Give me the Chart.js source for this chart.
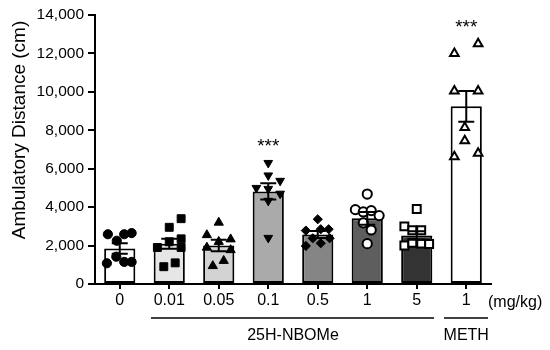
<!DOCTYPE html>
<html>
<head>
<meta charset="utf-8">
<script src="https://cdn.jsdelivr.net/npm/chart.js@4/dist/chart.umd.min.js"></script>
<style>
  html, body { margin: 0; padding: 0; background: #fff; }
  #wrap { width: 550px; height: 350px; }
</style>
</head>
<body>
<div id="wrap"><canvas id="c" width="550" height="350"></canvas></div>
<script>
// ---- data ----
const categories = ['0', '0.01', '0.05', '0.1', '0.5', '1', '5', '1'];
const means = [1850, 2100, 2000, 4820, 2580, 3420, 2520, 9250];
const sems = [270, 260, 300, 420, 180, 330, 220, 800];
const yTicks = [0, 2000, 4000, 6000, 8000, 10000, 12000, 14000];

const pts0 = [2590, 2250, 2590, 2650, 1420, 1150, 1150, 1080];
const pts001 = [3400, 2950, 2350, 1900, 2200, 1900, 900, 1100];
const pts005 = [3200, 2550, 2330, 2200, 1900, 1770, 1210, 940];
const pts01 = [6300, 5650, 5370, 5000, 4950, 4700, 4330, 2400];
const pts05 = [3370, 2780, 2850, 2850, 1980, 2120, 2380, 2380];
const pts1 = [4680, 3870, 3750, 3820, 3560, 3180, 2810, 2100];
const pts5 = [3900, 3000, 2800, 2800, 2000, 2150, 2100, 2080];
const ptsMeth = [12000, 12500, 10050, 10050, 8150, 7450, 6620, 6800];

// horizontal jitter of each point within its column (category units)
const jit0 = [-0.24, -0.06, 0.09, 0.24, -0.07, 0.09, 0.24, -0.26];
const jit001 = [0.24, 0, 0.24, -0.24, 0, 0.24, -0.11, 0.12];
const jit005 = [0, -0.24, 0.24, 0, -0.24, 0.24, 0.1, -0.12];
const jit01 = [0, 0, 0.24, -0.24, 0, 0.24, 0, 0];
const jit05 = [0, -0.24, 0.06, 0.22, -0.24, 0.06, -0.1, 0.24];
const jit1 = [0, -0.24, -0.08, 0.08, 0.24, -0.08, 0.08, 0];
const jit5 = [0, -0.25, -0.09, 0.09, -0.25, -0.09, 0.09, 0.25];
const jitMeth = [-0.24, 0.24, -0.24, 0.24, -0.03, -0.03, -0.24, 0.24];

const groups = ['25H-NBOMe', 'METH'];
const groupRanges = [[0.63, 6.35], [6.55, 7.44]];
const groupCenters = [3.5, 7];
const starIdx = [3, 7];
const unitLabel = '(mg/kg)';
const yTitle = 'Ambulatory Distance (cm)';

// ---- styles ----
const FONT = '"Liberation Sans", Arial, Helvetica, sans-serif';
const barFills = ['#ffffff', '#e6e6e6', '#d3d3d3', '#aaaaaa', '#858585', '#5e5e5e', '#333333', '#ffffff'];
const allPts = [pts0, pts001, pts005, pts01, pts05, pts1, pts5, ptsMeth];
const allJit = [jit0, jit001, jit005, jit01, jit05, jit1, jit5, jitMeth];
const markers = [
  { style: 'circle', r: 4.6, fill: '#000', bw: 1, rot: 0 },
  { style: 'rect', r: 5.6, fill: '#000', bw: 1, rot: 0 },
  { style: 'triangle', r: 5.3, fill: '#000', bw: 1, rot: 0 },
  { style: 'triangle', r: 5.0, fill: '#000', bw: 1, rot: 180 },
  { style: 'rectRot', r: 4.6, fill: '#000', bw: 1, rot: 0 },
  { style: 'circle', r: 4.6, fill: '#fff', bw: 2, rot: 0 },
  { style: 'rect', r: 5.6, fill: '#fff', bw: 2, rot: 0 },
  { style: 'triangle', r: 5.0, fill: '#fff', bw: 2, rot: 0 }
];

const scatterSets = allPts.map((vals, g) => ({
  type: 'scatter',
  xAxisID: 'xs',
  data: vals.map((v, k) => ({ x: g + allJit[g][k], y: v })),
  pointStyle: markers[g].style,
  pointRadius: markers[g].r,
  pointRotation: markers[g].rot,
  pointBackgroundColor: markers[g].fill,
  pointBorderColor: '#000',
  pointBorderWidth: markers[g].bw,
  pointHoverRadius: markers[g].r,
  order: 1
}));

const overlay = {
  id: 'overlay',
  afterDatasetsDraw(chart) {
    const ctx = chart.ctx;
    const y = chart.scales.y;
    const xs = chart.scales.xs;
    ctx.save();
    // error bars
    ctx.strokeStyle = '#000';
    ctx.lineWidth = 2;
    means.forEach((m, i) => {
      const cx = xs.getPixelForValue(i);
      const t = y.getPixelForValue(m + sems[i]);
      const b = y.getPixelForValue(m - sems[i]);
      ctx.beginPath();
      ctx.moveTo(cx, t); ctx.lineTo(cx, b);
      ctx.moveTo(cx - 8, t); ctx.lineTo(cx + 8, t);
      ctx.moveTo(cx - 8, b); ctx.lineTo(cx + 8, b);
      ctx.stroke();
    });
    // significance stars
    ctx.fillStyle = '#000';
    ctx.font = '19px ' + FONT;
    ctx.textAlign = 'center';
    ctx.textBaseline = 'middle';
    starIdx.forEach(i => {
      const top = y.getPixelForValue(Math.max(...allPts[i]));
      ctx.fillText('***', xs.getPixelForValue(i), top - 21 + 5);
    });
    // group lines & labels
    const area = chart.chartArea;
    ctx.lineWidth = 1.5;
    ctx.font = '16px ' + FONT;
    ctx.textBaseline = 'middle';
    groups.forEach((g, k) => {
      const ly = area.bottom + 34;
      ctx.beginPath();
      ctx.moveTo(xs.getPixelForValue(groupRanges[k][0]), ly);
      ctx.lineTo(xs.getPixelForValue(groupRanges[k][1]), ly);
      ctx.stroke();
      ctx.textAlign = 'center';
      ctx.fillText(g, xs.getPixelForValue(groupCenters[k]), ly + 18);
    });
    // unit label
    ctx.textAlign = 'left';
    ctx.fillText(unitLabel, area.right - 3, area.bottom + 19);
    // y title
    ctx.save();
    ctx.translate(20, 130);
    ctx.rotate(-Math.PI / 2);
    ctx.font = '19px ' + FONT;
    ctx.textAlign = 'center';
    ctx.textBaseline = 'middle';
    ctx.fillText(yTitle, 0, 0);
    ctx.restore();
    ctx.restore();
  }
};

new Chart(document.getElementById('c'), {
  type: 'bar',
  data: {
    labels: categories,
    datasets: [
      {
        type: 'bar',
        data: means,
        backgroundColor: barFills,
        borderColor: '#000',
        borderWidth: 2,
        borderSkipped: false,
        grouped: false,
        barPercentage: 0.63,
        categoryPercentage: 1,
        order: 2
      },
      ...scatterSets
    ]
  },
  options: {
    responsive: false,
    animation: false,
    devicePixelRatio: 1,
    layout: { padding: { left: 0, right: 59, top: 15, bottom: 0 } },
    plugins: { legend: { display: false }, tooltip: { enabled: false } },
    scales: {
      x: {
        type: 'category',
        offset: true,
        grid: { display: true, drawOnChartArea: false, drawTicks: true, tickLength: 5, offset: false, color: '#000', lineWidth: 2 },
        border: { display: true, color: '#000', width: 2 },
        ticks: { color: '#000', font: { family: FONT, size: 16 }, padding: 2, maxRotation: 0, autoSkip: false },
        afterFit(a) { a.height = 66; }
      },
      xs: {
        type: 'linear',
        display: false,
        offset: false,
        grace: 0,
        min: -0.5,
        max: 7.5
      },
      y: {
        min: 0,
        max: 14000,
        afterBuildTicks(a) { a.ticks = yTicks.map(v => ({ value: v })); },
        grid: { display: true, drawOnChartArea: false, drawTicks: true, tickLength: 7, color: '#000', lineWidth: 2 },
        border: { display: true, color: '#000', width: 2 },
        ticks: { color: '#000', font: { family: FONT, size: 15.5 }, padding: 4, callback: v => v.toLocaleString('en-US') },
        afterFit(a) { a.width = 95; }
      }
    }
  },
  plugins: [overlay]
});
</script>
</body>
</html>
